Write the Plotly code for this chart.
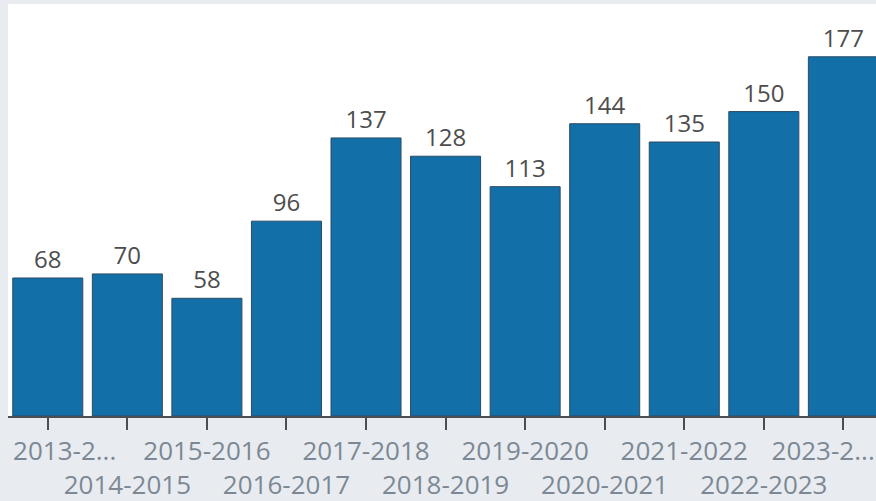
import plotly.graph_objects as go

# Data
categories = ["2013-2014", "2014-2015", "2015-2016", "2016-2017", "2017-2018", "2018-2019",
              "2019-2020", "2020-2021", "2021-2022", "2022-2023", "2023-2024"]
values = [68, 70, 58, 96, 137, 128, 113, 144, 135, 150, 177]
tick_labels = ["\u00a0\u00a0\u00a0\u00a0\u00a02013-2...", "<br>2014-2015", "2015-2016", "<br>2016-2017",
               "2017-2018", "<br>2018-2019", "2019-2020", "<br>2020-2021", "2021-2022",
               "<br>2022-2023", "2023-2...\u00a0\u00a0\u00a0\u00a0\u00a0\u00a0"]

BAR = "#126fa7"
fig = go.Figure()
fig.add_trace(go.Bar(
    x=categories, y=values,
    text=values, textposition="outside", cliponaxis=False,
    textfont=dict(family="Open Sans", size=24, color="#4d4d4d"),
    marker=dict(color=BAR, line=dict(color="#2a4b66", width=1)),
    hoverinfo="x+y",
))

fig.update_layout(
    width=876, height=501,
    margin=dict(l=8, r=0, t=4, b=85, autoexpand=False),
    paper_bgcolor="#e8ecf0", plot_bgcolor="#ffffff",
    bargap=0.12, showlegend=False,
    font=dict(family="Open Sans"),
)
fig.update_xaxes(
    type="category", range=[-0.5, 10.41], automargin=False,
    tickmode="array", tickvals=categories, ticktext=tick_labels,
    ticks="outside", ticklen=12, tickwidth=2, tickcolor="#4a4f55",
    showline=True, linewidth=2, linecolor="#4a4f55",
    tickfont=dict(family="Open Sans", size=26, color="#7d8894"),
    ticklabelstandoff=-1,
    tickangle=0, showgrid=False, zeroline=False,
)
fig.update_yaxes(range=[0, 203], visible=False, showgrid=False, zeroline=False, automargin=False)

fig.write_html("out.html", config={"displayModeBar": False},
               post_script="document.body.style.margin='0';document.body.style.overflow='hidden';")
